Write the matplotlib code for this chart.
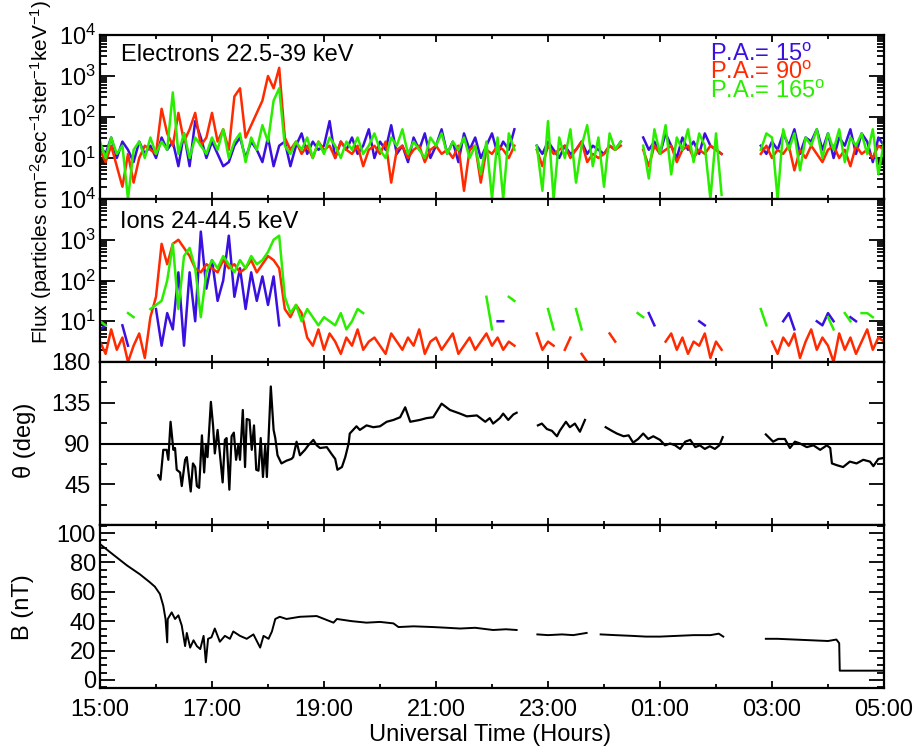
import numpy as np
import matplotlib
matplotlib.use("Agg")
import matplotlib.pyplot as plt
from matplotlib.ticker import LogLocator, NullFormatter, MultipleLocator, FixedLocator

plt.rcParams['font.family'] = 'Liberation Sans'
plt.rcParams['mathtext.fontset'] = 'custom'
plt.rcParams['mathtext.rm'] = 'Liberation Sans'
plt.rcParams['mathtext.it'] = 'Liberation Sans:italic'
plt.rcParams['mathtext.default'] = 'regular'

nan = np.nan

BLUE = '#3a10e0'
RED = '#ff2a00'
GREEN = '#2aee00'

# hours after 15:00 UT
hour_ticks = [0, 2, 4, 6, 8, 10, 12, 14]
hour_labels = ['15:00', '17:00', '19:00', '21:00', '23:00', '01:00', '03:00', '05:00']

# flux samples, one every 6 min from 15:00, given as log10(flux)
t_flux = np.arange(141) * 0.1

elec_blue = [
    1.3, 1.1, 1.5, 1.0, 1.4, 1.2, 0.9, 1.4, 1.1, 1.3,
    1.0, 1.5, 1.2, 1.4, 0.8, 1.6, 0.8, 1.9, 1.5, 1.0,
    1.4, 1.1, 0.8, 0.9, 1.3, 1.5, 1.0, 1.4, 1.2, 0.9,
    1.5, 0.8, 1.3, 1.4, 0.8, 1.3, 1.6, 1.1, 1.4, 1.2,
    1.3, 1.9, 1.0, 1.4, 1.2, 1.5, 1.1, 1.3, 1.7, 1.0,
    1.4, 1.2, 1.8, 1.1, 1.3, 0.9, 1.5, 1.2, 1.6, 1.0,
    1.3, 1.7, 1.1, 1.4, 0.9, 1.6, 1.2, 1.5, 1.0, 1.3,
    1.6, 1.1, 1.4, 1.2, 1.7, nan, nan, nan, 1.3, 1.1,
    1.4, 1.2, 1.0, 1.3, 1.1, 1.2, 1.4, 1.1, 1.3, 1.2,
    1.1, 1.3, 1.2, 1.4, nan, nan, nan, 1.5, 1.2, 1.4,
    1.1, 1.6, 1.3, 1.0, 1.5, 1.2, 1.4, 1.1, 1.6, 1.3,
    1.2, 1.1, nan, nan, nan, nan, nan, nan, 1.3, 1.1,
    1.4, 1.2, 1.6, 1.3, 1.7, 1.1, 1.5, 1.4, 1.7, 1.2,
    1.6, 1.0, 1.5, 1.3, 1.7, 1.1, 1.6, 1.4, 0.9, 1.5,
    1.3]

elec_red = [
    1.2, 0.9, 1.3, 0.8, 0.3, 1.1, 0.4, 1.0, 1.3, 1.2,
    1.1, 2.2, 1.6, 1.3, 2.1, 1.4, 1.7, 2.1, 1.3, 1.5,
    2.1, 1.4, 1.7, 1.2, 2.5, 2.7, 1.5, 1.8, 2.1, 2.4,
    3.0, 2.7, 3.2, 1.5, 1.2, 1.4, 1.1, 1.3, 1.0, 1.4,
    1.2, 1.3, 1.0, 1.4, 1.2, 1.1, 1.3, 0.8, 1.2, 1.3,
    1.1, 1.4, 0.4, 1.2, 1.3, 1.0, 1.2, 1.3, 0.9, 1.2,
    1.3, 1.1, 1.2, 1.0, 1.3, 0.2, 1.2, 1.3, 0.4, 1.2,
    1.1, 1.3, 1.2, 1.0, 1.3, nan, nan, nan, 1.2, 0.8,
    1.3, 1.1, 1.2, 1.3, 1.0, 1.2, 1.4, 0.9, 1.1, 1.0,
    1.1, 1.3, 1.2, 1.3, nan, nan, nan, 1.2, 0.8, 1.3,
    1.1, 1.2, 1.3, 0.9, 1.2, 1.3, 1.0, 1.2, 1.1, 1.3,
    1.2, 1.1, nan, nan, nan, nan, nan, nan, 1.1, 1.3,
    1.0, 1.2, 1.1, 1.3, 0.7, 1.2, 1.0, 1.3, 1.1, 0.9,
    1.2, 1.3, 1.0, 1.2, 0.8, 1.3, 1.1, 1.2, 1.0, 1.3,
    1.2]

elec_green = [
    1.4, 1.0, 1.5, 1.1, 1.3, 0.0, 1.2, 1.4, 1.0, 1.5,
    1.1, 1.4, 1.2, 2.6, 1.1, 1.6, 1.0, 1.5, 1.3, 1.1,
    1.5, 1.2, 1.7, 1.0, 1.4, 1.6, 0.9, 1.5, 1.2, 1.8,
    1.4, 2.4, 2.7, 1.3, 1.1, 1.4, 1.2, 1.5, 1.0, 1.4,
    1.1, 1.5, 1.3, 1.0, 1.4, 1.2, 1.5, 1.1, 1.3, 1.6,
    1.2, 1.0, 1.5, 1.3, 1.7, 1.1, 1.4, 1.2, 1.0, 1.5,
    1.3, 1.6, 1.1, 1.4, 1.2, 1.5, 1.0, 1.3, 0.6, 1.4,
    0.0, 1.5, 0.0, 1.6, 1.2, nan, nan, nan, 1.3, 0.2,
    1.9, 0.0, 1.5, 1.0, 1.7, 0.4, 1.3, 1.8, 0.8, 1.5,
    0.3, 1.6, 1.2, 1.4, nan, nan, nan, 1.3, 0.5, 1.7,
    1.1, 1.8, 0.6, 1.5, 1.2, 1.7, 0.9, 1.6, 1.3, 0.0,
    1.6, 0.1, nan, nan, nan, nan, nan, nan, 1.2, 1.6,
    1.5, 0.0, 1.7, 1.2, 1.6, 0.7, 1.5, 1.3, 1.7, 1.0,
    1.6, 1.2, 1.7, 0.9, 1.5, 1.3, 1.6, 1.1, 1.7, 0.6,
    1.4]

ion_blue = ([
    0.8, 0.9, nan, nan, 0.9, 0.4, nan, nan, nan, nan,
    1.3, 0.4, 1.2, 0.8, 2.2, 0.4, 2.2, 1.0, 3.2, 1.8,
    2.5, 1.5, 2.0, 3.1, 1.6, 2.3, 1.3, 2.2, 1.5, 2.1,
    1.4, 2.1, 0.9] + [nan] * 38 +
    [1.0, 1.0] + [nan] * 25 +
    [1.2, 0.9] + [nan] * 7 +
    [1.0, 0.9] + [nan] * 13 +
    [1.0, 1.2, 0.8, nan, nan, nan, 1.0, 0.9,
     1.2, 1.0, nan, nan, 1.1, 1.0, nan, nan, nan, nan,
     nan])

ion_red = [
    0.5, 0.2, 0.8, 0.3, 0.6, 0.0, 0.4, 0.7, 0.1, 1.1,
    1.6, 2.9, 2.4, 2.9, 3.0, 2.8, 2.6, 2.3, 2.2, 2.4,
    2.3, 2.2, 2.5, 2.3, 2.4, 2.2, 2.3, 2.5, 2.2, 2.4,
    2.6, 2.5, 2.3, 1.3, 1.1, 1.4, 1.2, 0.6, 0.4, 0.8,
    0.3, 0.7, 0.5, 0.2, 0.6, 0.4, 0.8, 0.3, 0.5, 0.6,
    0.4, 0.2, 0.7, 0.5, 0.3, 0.6, 0.4, 0.8, 0.2, 0.5,
    0.6, 0.3, 0.5, 0.7, 0.2, 0.4, 0.6, 0.3, 0.5, 0.7,
    0.4, 0.6, 0.3, 0.5, 0.4, nan, nan, nan, 0.7, 0.3,
    0.5, 0.4, nan, 0.3, 0.6, nan, 0.2, 0.0, nan, nan,
    nan, 0.7, 0.5, nan, nan, nan, nan, nan, nan, nan,
    nan, 0.5, 0.7, 0.3, 0.6, 0.2, 0.5, 0.4, 0.7, 0.1,
    0.5, 0.3, nan, nan, nan, nan, nan, nan, nan, nan,
    0.5, 0.2, 0.6, 0.4, 0.7, 0.1, 0.5, 0.8, 0.3, 0.6,
    0.4, 0.0, 0.7, 0.3, 0.6, 0.2, 0.5, 0.8, 0.3, 0.6,
    0.5]

ion_green = ([
    1.0, 0.9, nan, nan, nan, 1.2, 1.1, nan, nan, 1.3,
    1.4, 1.5, 2.0, 2.9, 1.3, 2.6, 2.8, 2.3, 1.1, 2.2,
    2.5, 2.3, 2.6, 2.4, 2.2, 2.5, 2.3, 2.6, 2.4, 2.5,
    2.7, 3.0, 3.1, 1.6, 1.2, 1.4, 1.0, 1.3, 1.1, 0.9,
    1.1, 1.0, 0.9, 1.2, 0.8, 1.0, 1.3, 1.2] + [nan] * 21 +
    [1.6, 0.8, nan, nan, 1.6, 1.5, nan, nan, nan, nan, nan,
     1.3, 0.8, nan, nan, nan, 1.3, 0.8, nan, nan, nan,
     nan, nan, nan, nan, nan, nan, 1.2, 1.1] + [nan] * 20 +
    [1.3, 0.9] + [nan] * 10 +
    [1.1, 0.8, nan, 1.2, 1.0, nan, 1.2, 1.2, 1.1, nan,
     nan])

# pitch angle theta (deg), segments split by nan
theta_t = [
    1.04, 1.08, 1.13, 1.19, 1.22, 1.26, 1.31, 1.34, 1.37, 1.43,
    1.46, 1.52, 1.55, 1.62, 1.66, 1.70, 1.73, 1.77, 1.82, 1.86,
    1.89, 1.92, 1.98, 2.02, 2.05, 2.10, 2.14, 2.19, 2.23, 2.26,
    2.31, 2.35, 2.39, 2.43, 2.47, 2.50, 2.55, 2.59, 2.62, 2.67,
    2.71, 2.75, 2.79, 2.83, 2.87, 2.91, 2.95, 2.98, 3.05, 3.10,
    3.13, 3.17, 3.24, 3.33, 3.42, 3.45, 3.51, 3.57, 3.66, 3.72,
    3.81, 3.87, 3.93, 4.05, 4.14, 4.20, 4.24, 4.32, 4.38, 4.44,
    4.46, 4.58, 4.64, 4.76, 4.88, 5.00, 5.12, 5.24, 5.36, 5.45,
    5.54, 5.71, 5.83, 5.95, 6.10, 6.25, 6.43, 6.55, 6.73, 6.88,
    6.96, 7.02, 7.14, 7.20, 7.29, 7.38, 7.44, 7.60,
    7.82, 7.89, 7.98, 8.07, 8.16, 8.21, 8.32, 8.39, 8.48, 8.57,
    8.66, 8.85,
    9.03, 9.14, 9.23, 9.35, 9.44, 9.52, 9.61, 9.70, 9.79, 9.88,
    10.00, 10.09, 10.18, 10.27, 10.36, 10.45, 10.54, 10.63, 10.71, 10.80,
    10.89, 10.98, 11.06, 11.12, 11.50,
    11.89, 12.02, 12.11, 12.23, 12.32, 12.41, 12.50, 12.62, 12.74, 12.86,
    12.98, 13.04, 13.07, 13.16, 13.27, 13.39, 13.51, 13.63, 13.75, 13.81,
    13.90, 13.99]
theta_deg = [
    55, 50, 83, 83, 72, 114, 83, 85, 61, 58,
    43, 72, 75, 37, 68, 64, 43, 41, 99, 58,
    88, 75, 136, 109, 79, 105, 79, 47, 94, 96,
    39, 98, 102, 72, 88, 72, 127, 64, 117, 116,
    83, 110, 61, 60, 96, 53, 88, 53, 153, 105,
    96, 77, 68, 71, 73, 75, 92, 77, 83, 88,
    94, 88, 85, 86, 78, 73, 61, 64, 75, 90,
    101, 109, 105, 110, 108, 109, 114, 116, 119, 130,
    114, 116, 118, 119, 134, 127, 123, 120, 121, 114,
    118, 112, 118, 123, 116, 122, 124, nan,
    110, 112, 106, 104, 98, 104, 114, 108, 112, 103,
    116, nan,
    108, 104, 101, 98, 99, 91, 95, 101, 95, 98,
    94, 88, 90, 88, 84, 92, 94, 86, 88, 84,
    87, 84, 88, 97, nan,
    100, 92, 95, 95, 85, 92, 90, 86, 88, 83,
    88, 85, 68, 66, 64, 70, 68, 72, 70, 65,
    73, 74]

# magnetic field magnitude (nT)
b_t = [
    0.00, 0.18, 0.48, 0.71, 0.89, 0.98, 1.07, 1.13, 1.17, 1.20,
    1.21, 1.28, 1.34, 1.40, 1.46, 1.52, 1.55, 1.61, 1.67, 1.73,
    1.79, 1.85, 1.89, 1.93, 1.99, 2.05, 2.14, 2.23, 2.32, 2.38,
    2.50, 2.62, 2.74, 2.86, 2.92, 3.01, 3.07, 3.13, 3.21, 3.33,
    3.57, 3.87, 4.17, 4.23, 4.50, 4.76, 5.00, 5.24, 5.33, 5.60,
    5.95, 6.20, 6.43, 6.70, 7.02, 7.25, 7.44, 7.60,
    7.81, 8.00, 8.25, 8.45, 8.69, 8.80,
    8.94, 9.20, 9.50, 9.75, 10.00, 10.30, 10.60, 10.90, 11.05, 11.13,
    11.50,
    11.89, 12.10, 12.40, 12.70, 13.00, 13.15, 13.20, 13.21, 13.60, 14.00]
b_nt = [
    92.5, 87, 78, 72, 66.5, 63.5, 58.5, 50.5, 41.5, 25.6,
    41.5, 46, 41.5, 44, 37, 23, 32, 22, 27, 23,
    21, 30, 12, 28, 29, 35, 26, 30, 28, 33,
    30, 28, 31, 22, 30, 28, 33, 41.5, 43, 41.5,
    43, 43.5, 39, 41.5, 40, 39, 39.5, 38.5, 36, 36.5,
    36, 35.5, 35, 35.5, 34, 34.5, 34, nan,
    31, 30.5, 31, 30.5, 32, nan,
    31, 30.5, 30, 29.5, 29.5, 30, 30.5, 30.5, 31.5, 29.5,
    nan,
    28, 28, 27.5, 27, 26.5, 27.5, 25, 6.3, 6.3, 6.3]

W, H = 919, 753
fig = plt.figure(figsize=(W / 100, H / 100), dpi=100)


def panel(top, bottom):
    return fig.add_axes([100 / W, 1 - bottom / H, 784 / W, (bottom - top) / H])


ax1 = panel(35, 199)
ax2 = panel(199, 362)
ax3 = panel(362, 525)
ax4 = panel(525, 688)

# ---- flux panels
for ax, series in [(ax1, (elec_blue, elec_red, elec_green)),
                   (ax2, (ion_blue, ion_red, ion_green))]:
    for vals, col in zip(series, (BLUE, RED, GREEN)):
        ax.plot(t_flux, 10 ** np.array(vals, dtype=float), color=col, lw=1.8)
    ax.set_yscale('log')
    ax.set_ylim(1, 1e4)
    ax.set_yticks([10, 100, 1000, 10000],
                  ['$10^{1}$', '$10^{2}$', '$10^{3}$', '$10^{4}$'])
    ax.yaxis.set_minor_locator(LogLocator(base=10, subs=np.arange(2, 10), numticks=20))
    ax.yaxis.set_minor_formatter(NullFormatter())

# ---- theta panel
ax3.plot(theta_t, theta_deg, color='k', lw=1.6)
ax3.axhline(90, color='k', lw=1.5)
ax3.set_ylim(0, 180)
ax3.set_yticks([45, 90, 135, 180])
ax3.yaxis.set_minor_locator(FixedLocator([22.5, 67.5, 112.5, 157.5]))

# ---- B panel
ax4.plot(b_t, b_nt, color='k', lw=1.4)
ax4.set_ylim(-5.5, 105.5)
ax4.set_yticks([0, 20, 40, 60, 80, 100])
ax4.yaxis.set_minor_locator(MultipleLocator(5))

for ax in (ax1, ax2, ax3, ax4):
    ax.set_xlim(0, 14)
    ax.set_xticks(hour_ticks, hour_labels)
    ax.xaxis.set_minor_locator(MultipleLocator(1))
    for s in ax.spines.values():
        s.set_linewidth(1.6)
    ax.tick_params(axis='both', which='both', direction='in', top=True, right=True,
                   labelsize=17, width=1.3)
    ax.tick_params(axis='x', which='major', length=5, pad=8)
    ax.tick_params(axis='x', which='minor', length=3)
    ax.tick_params(axis='y', which='major', length=11, pad=3)
    ax.tick_params(axis='y', which='minor', length=5)
    if ax is not ax4:
        ax.tick_params(axis='x', labelbottom=False)
ax3.tick_params(axis='y', which='major', pad=7)


def fx(x):
    return x / W


def fy(y):
    return 1 - y / H


fig.text(fx(121), fy(55), 'Electrons 22.5-39 keV', fontsize=17, va='center')
fig.text(fx(120), fy(222), 'Ions 24-44.5 keV', fontsize=17, va='center')
fig.text(fx(710), fy(55), 'P.A.= 15$^{o}$', fontsize=17, color=BLUE, va='center')
fig.text(fx(710), fy(73), 'P.A.= 90$^{o}$', fontsize=17, color=RED, va='center')
fig.text(fx(710), fy(92), 'P.A.= 165$^{o}$', fontsize=17, color=GREEN, va='center')

fig.text(fx(41), fy(172),
         'Flux (particles cm$^{-2}$sec$^{-1}$ster$^{-1}$keV$^{-1}$)',
         fontsize=15, rotation=90, ha='center', va='center')
fig.text(fx(24), fy(440), '\u03b8 (deg)', fontsize=17, rotation=90, ha='center', va='center')
fig.text(fx(23), fy(607), 'B (nT)', fontsize=17, rotation=90, ha='center', va='center')
fig.text(fx(490), fy(735), 'Universal Time (Hours)', fontsize=17, ha='center', va='center')

fig.savefig('out.png', dpi=100)
